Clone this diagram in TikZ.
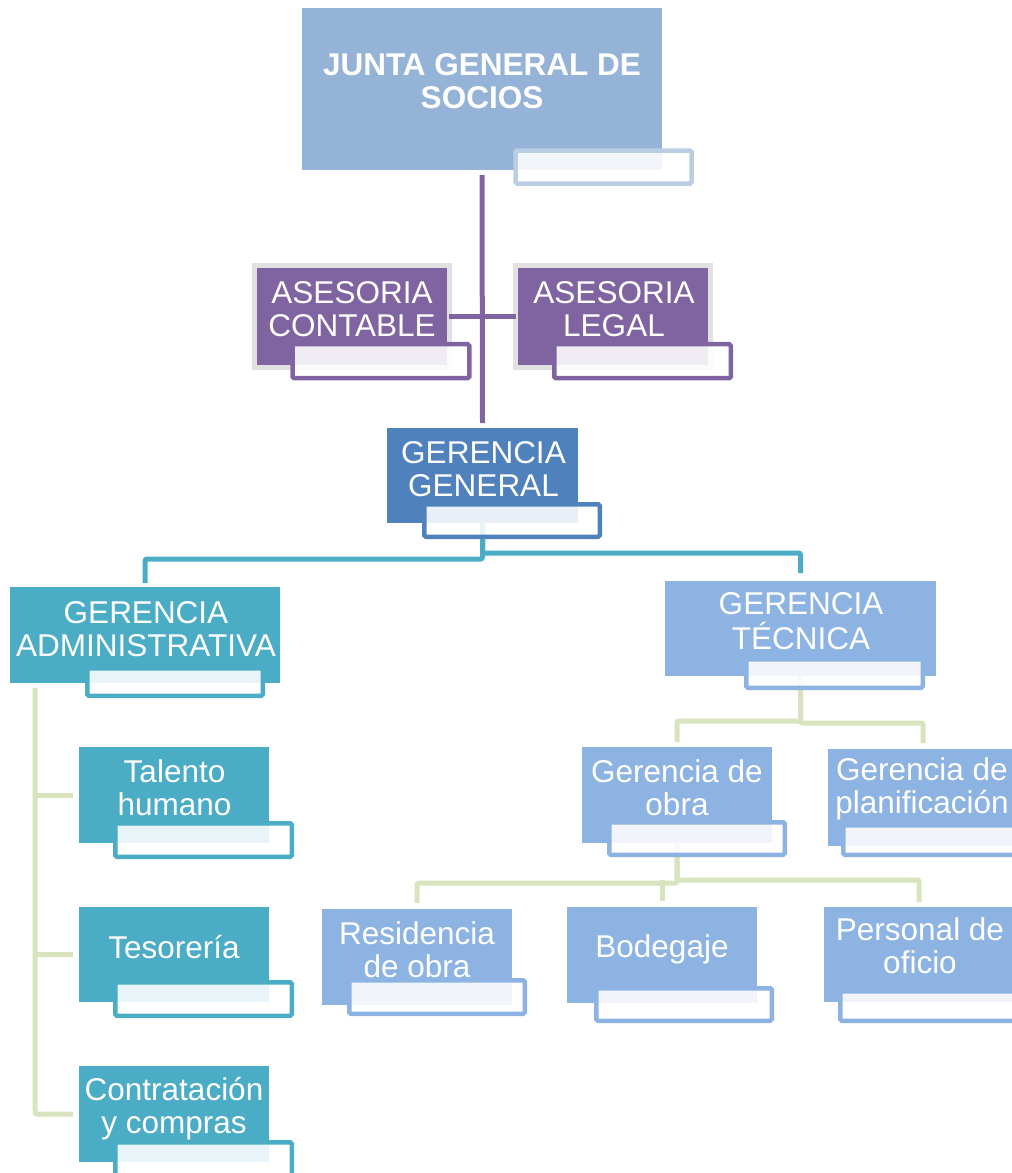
\documentclass[tikz,border=0pt]{standalone}
\usepackage{fontspec}
\setmainfont{Liberation Sans}
\usetikzlibrary{calc}
\definecolor{cJunta}{HTML}{95B3D7}
\definecolor{cJuntaS}{HTML}{B9CDE5}
\definecolor{cPurp}{HTML}{8064A2}
\definecolor{cGrey}{HTML}{E1E1E1}
\definecolor{cBlue}{HTML}{4F81BD}
\definecolor{cTeal}{HTML}{4BACC6}
\definecolor{cLight}{HTML}{8DB3E2}
\definecolor{cGreen}{HTML}{D7E4BD}
\newcommand\mystrut{\rule[-9pt]{0pt}{33pt}}
\newcommand\labfont{\fontsize{31.5}{33}\selectfont\lineskiplimit=-100pt\relax}
\begin{document}
\begin{tikzpicture}[x=1pt,y=-1pt,
  mainbox/.style={rectangle, draw=none, fill=#1, inner sep=0pt, outer sep=0pt},
  asesbox/.style={rectangle, fill=cPurp, draw=cGrey, line width=5pt, inner sep=0pt, outer sep=0pt, minimum width=195pt, minimum height=102pt},
  subbox/.style={rectangle, draw=#1, line width=4.5pt, fill=white, fill opacity=0.88, rounded corners=1.5pt, inner sep=0pt, outer sep=0pt},
  lbl/.style={text=white, align=center, inner sep=0pt, font=\labfont},
  lblb/.style={text=white, align=center, inner sep=0pt, font=\labfont\bfseries},
  conn/.style={line width=5pt, rounded corners=2pt, draw=#1},
]
\useasboundingbox (0,0) rectangle (1012,1173);
\clip (0,0) rectangle (1012,1173);

% main boxes
\node[mainbox=cJunta, minimum width=360pt, minimum height=162pt] (junta) at (482,89) {};
\node[asesbox] (ac) at (351.7,316.5) {};
\node[asesbox] (al) at (613,316.5) {};
\node[mainbox=cBlue, minimum width=191pt, minimum height=95pt] (gg) at (482.5,475.5) {};
\node[mainbox=cTeal, minimum width=270pt, minimum height=96pt] (ga) at (145,635) {};
\node[mainbox=cLight, minimum width=271pt, minimum height=95pt] (gt) at (800.5,628.5) {};
\node[mainbox=cTeal, minimum width=190pt, minimum height=96pt] (th) at (174,795) {};
\node[mainbox=cTeal, minimum width=190pt, minimum height=95pt] (ts) at (174,954.5) {};
\node[mainbox=cTeal, minimum width=190pt, minimum height=96pt] (cc) at (174,1114) {};
\node[mainbox=cLight, minimum width=190pt, minimum height=96pt] (go) at (677,795) {};
\node[mainbox=cLight, minimum width=190pt, minimum height=97pt] (gp) at (923,797.5) {};
\node[mainbox=cLight, minimum width=190pt, minimum height=96pt] (ro) at (417,957) {};
\node[mainbox=cLight, minimum width=190pt, minimum height=96pt] (bo) at (662,955) {};
\node[mainbox=cLight, minimum width=190pt, minimum height=95pt] (po) at (919,954.5) {};

% connectors
\coordinate (sp) at ([xshift=25pt,yshift=-5pt]ga.south west);
\draw[conn=cPurp] ([yshift=-5pt]junta.south) -- ([yshift=5pt]gg.north);
\draw[conn=cPurp] (ac.east) -- (al.west);
\draw[conn=cTeal] (gg.south) -- ++(0,36) -| ([yshift=4pt]ga.north);
\draw[conn=cTeal] (gg.south) -- ++(0,30) -| ([yshift=8pt]gt.north);
\draw[conn=cGreen] (gt.south) -- ++(0,45) -| ([yshift=5pt]go.north);
\draw[conn=cGreen] (gt.south) -- ++(0,47) -| ([yshift=6pt]gp.north);
\draw[conn=cGreen] (go.south) -- ++(0,40) -| ([yshift=6pt]ro.north);
\draw[conn=cGreen] (go.south) -- ++(0,37) -| ([yshift=5pt]po.north);
\draw[conn=cGreen] ([yshift=6pt]bo.north) -- ++(0,-21);
\draw[conn=cGreen] (sp) |- ([xshift=-6pt]cc.west);
\draw[conn=cGreen] ([xshift=-6pt]th.west) -- (sp |- th.west);
\draw[conn=cGreen] ([xshift=-6pt]ts.west) -- (sp |- ts.west);

% sub boxes
\node[subbox=cJuntaS, minimum width=176pt, minimum height=33pt] (juntas) at (603.5,167) {};
\node[subbox=cPurp, minimum width=176.7pt, minimum height=34pt] (acs) at (380.9,361.2) {};
\node[subbox=cPurp, minimum width=176.5pt, minimum height=34pt] (als) at (642.5,361.2) {};
\node[subbox=cBlue, minimum width=175.5pt, minimum height=32.5pt] (ggs) at (512,520.5) {};
\node[subbox=cTeal, minimum width=175.5pt, minimum height=27.5pt] (gas) at (175,682) {};
\node[subbox=cLight, minimum width=176.5pt, minimum height=28.5pt] (gts) at (834.5,673.5) {};
\node[subbox=cTeal, minimum width=176.5pt, minimum height=33.5pt] (ths) at (203.5,840) {};
\node[subbox=cTeal, minimum width=176.5pt, minimum height=33.5pt] (tss) at (203.5,999) {};
\node[subbox=cTeal, minimum width=176.5pt, minimum height=33.5pt] (ccs) at (203.5,1159) {};
\node[subbox=cLight, minimum width=175.5pt, minimum height=32.5pt] (gos) at (697,838.5) {};
\node[subbox=cLight, minimum width=175.5pt, minimum height=29.5pt] (gps) at (931,840) {};
\node[subbox=cLight, minimum width=175.5pt, minimum height=33.5pt] (ros) at (437,997) {};
\node[subbox=cLight, minimum width=175.5pt, minimum height=32.5pt] (bos) at (684,1004.5) {};
\node[subbox=cLight, minimum width=175.5pt, minimum height=29.5pt] (pos) at (928,1006) {};

% labels
\node[lblb] (juntat) at (482,84) {\mystrut JUNTA GENERAL DE\\\mystrut SOCIOS};
\node[lbl] (act) at (352,312) {\mystrut ASESORIA\\\mystrut CONTABLE};
\node[lbl] (alt) at (614,312) {\mystrut ASESORIA\\\mystrut LEGAL};
\node[lbl] (ggt) at (483.5,472) {\mystrut GERENCIA\\\mystrut GENERAL};
\node[lbl] (gat) at (146,632) {\mystrut GERENCIA\\\mystrut ADMINISTRATIVA};
\node[lbl] (gtt) at (801,624) {\mystrut GERENCIA\\[2pt]\mystrut TÉCNICA};
\node[lbl] (tht) at (174.5,791) {\mystrut Talento\\\mystrut humano};
\node[lbl] (tst) at (174,950.5) {\mystrut Tesorería};
\node[lbl] (cct) at (174,1109) {\mystrut Contratación\\\mystrut y compras};
\node[lbl] (got) at (677,791) {\mystrut Gerencia de\\\mystrut obra};
\node[lbl] (gpt) at (922,789) {\mystrut Gerencia de\\\mystrut planificación};
\node[lbl] (rot) at (417,953) {\mystrut Residencia\\\mystrut de obra};
\node[lbl] (bot) at (662,949.5) {\mystrut Bodegaje};
\node[lbl] (pot) at (920,949) {\mystrut Personal de\\\mystrut oficio};
\end{tikzpicture}
\end{document}
